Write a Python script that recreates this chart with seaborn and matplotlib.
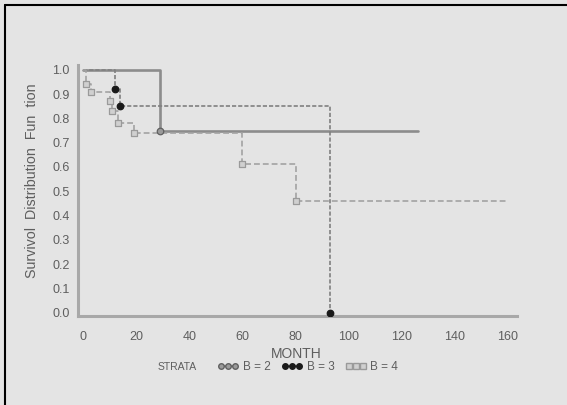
import numpy as np
import pandas as pd
import matplotlib.pyplot as plt
import seaborn as sns
from matplotlib.lines import Line2D

# survival step curves
strata = ['B = 2', 'B = 3', 'B = 4']
month_b2 = [0, 29, 126]
surv_b2 = [1.0, 0.75, 0.75]
month_b3 = [0, 12, 14, 93]
surv_b3 = [1.0, 0.92, 0.85, 0.0]
month_b4 = [0, 1, 3, 10, 11, 13, 19, 60, 80, 160]
surv_b4 = [1.0, 0.94, 0.91, 0.87, 0.83, 0.78, 0.74, 0.61, 0.46, 0.46]

# marked points on each curve
mark_month_b2 = [29]
mark_surv_b2 = [0.75]
mark_month_b3 = [12, 14, 93]
mark_surv_b3 = [0.92, 0.85, 0.0]
mark_month_b4 = [1, 3, 10, 11, 13, 19, 60, 80]
mark_surv_b4 = [0.94, 0.91, 0.87, 0.83, 0.78, 0.74, 0.61, 0.46]

xticks = [0, 20, 40, 60, 80, 100, 120, 140, 160]
yticks = [0.0, 0.1, 0.2, 0.3, 0.4, 0.5, 0.6, 0.7, 0.8, 0.9, 1.0]

bg = '#e4e4e4'
txt = '#5e5e5e'
sns.set_style('white', {'axes.facecolor': bg, 'figure.facecolor': bg})
plt.rcParams['font.family'] = ['Liberation Sans', 'DejaVu Sans']

df = pd.concat([
    pd.DataFrame({'MONTH': month_b2, 'SURV': surv_b2, 'STRATA': strata[0]}),
    pd.DataFrame({'MONTH': month_b3, 'SURV': surv_b3, 'STRATA': strata[1]}),
    pd.DataFrame({'MONTH': month_b4, 'SURV': surv_b4, 'STRATA': strata[2]}),
])
marks = [(mark_month_b2, mark_surv_b2), (mark_month_b3, mark_surv_b3), (mark_month_b4, mark_surv_b4)]

colors = {'B = 2': '#8c8c8c', 'B = 3': '#808080', 'B = 4': '#a2a2a2'}
dashes = {'B = 2': '', 'B = 3': (2.5, 1.2), 'B = 4': (3.5, 1.8)}
mk = {'B = 2': ('o', '#9a9a9a', '#606060'), 'B = 3': ('o', '#1a1a1a', '#1a1a1a'), 'B = 4': ('s', '#d0d0d0', '#9a9a9a')}

fig = plt.figure(figsize=(5.67, 4.05), dpi=100)
ax = fig.add_axes([0.1376, 0.2198, 0.7743, 0.6198])

for s in strata:
    sub = df[df.STRATA == s]
    sns.lineplot(data=sub, x='MONTH', y='SURV', ax=ax, color=colors[s], estimator=None, sort=False,
                 drawstyle='steps-post', lw=1.9 if s == 'B = 2' else 1.2, dashes=False,
                 linestyle='-' if s == 'B = 2' else '--')
    if dashes[s]:
        ax.lines[-1].set_dashes(dashes[s])

for s, (mx, my) in zip(strata, marks):
    m, fc, ec = mk[s]
    sns.scatterplot(x=mx, y=my, ax=ax, marker=m, color=fc, edgecolor=ec, s=22, linewidth=0.9, zorder=5)

ax.set_xlim(-1.9, 163.4)
ax.set_ylim(-0.014, 1.02)
ax.set_xticks(xticks)
ax.set_yticks(yticks)
ax.set_yticklabels([f'{v:.1f}' for v in yticks])
for sp in ['top', 'right']:
    ax.spines[sp].set_visible(False)
for sp in ['left', 'bottom']:
    ax.spines[sp].set_color('#a8a8a8')
    ax.spines[sp].set_linewidth(2.2)
ax.tick_params(axis='both', length=2, width=1, color='#a8a8a8', labelcolor=txt, labelsize=9)
ax.tick_params(axis='x', pad=9)
ax.tick_params(axis='y', pad=4)
ax.set_xlabel('MONTH', color=txt, fontsize=10)
ax.xaxis.set_label_coords(0.496, -0.125)
ax.set_ylabel('Survivol  Distribution  Fun  tion', color=txt, fontsize=10.3)
ax.yaxis.set_label_coords(-0.09, 0.537)

fig.text(0.313, 0.093, 'STRATA', color=txt, fontsize=7.5, ha='center', va='center')
handles = [Line2D([], [], color=colors[s], lw=1.2, marker=mk[s][0], markerfacecolor=mk[s][1],
                  markeredgecolor=mk[s][2], markersize=4) for s in strata]
fig.legend(handles, strata, loc='center', bbox_to_anchor=(0.543, 0.093), ncol=3, frameon=False,
           numpoints=3, handlelength=1.8, handletextpad=0.35, columnspacing=0.9,
           fontsize=8.5, labelcolor=txt)

# frame lines at left and top of the picture
fig.add_artist(Line2D([5 / 567, 5 / 567], [0, 1 - 5 / 405], color='black', lw=1.5))
fig.add_artist(Line2D([5 / 567, 1], [1 - 5 / 405, 1 - 5 / 405], color='black', lw=1.5))

fig.savefig('out.png', dpi=100, facecolor=bg)
